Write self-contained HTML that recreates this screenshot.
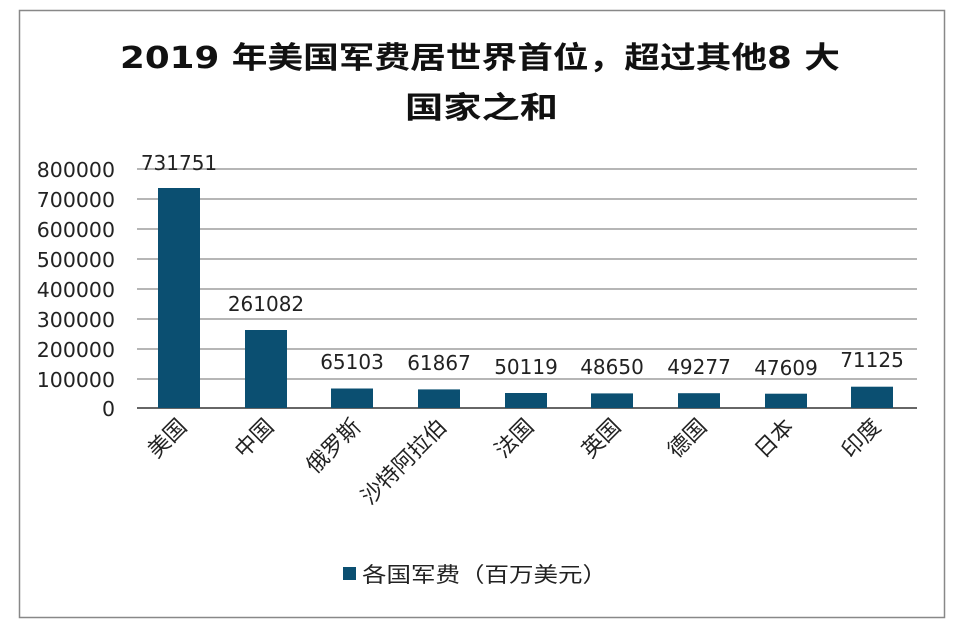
<!DOCTYPE html>
<html><head><meta charset="utf-8"><style>
body{margin:0;background:#fff;}
svg text{font-family:"DejaVu Sans","Noto Sans CJK SC",sans-serif;}
</style></head><body>
<svg width="970" height="630" xmlns="http://www.w3.org/2000/svg">
<rect x="19.5" y="10.5" width="925" height="607" fill="#fff" stroke="#888" stroke-width="1.5"/>
<text x="120" y="68" textLength="720" lengthAdjust="spacingAndGlyphs" font-size="30" font-weight="bold" fill="#111">2019 年美国军费居世界首位，超过其他8 大</text>
<text x="405" y="118" textLength="153" lengthAdjust="spacingAndGlyphs" font-size="30" font-weight="bold" fill="#111">国家之和</text>
<g stroke="#8a8a8a" stroke-width="1.2">
<line x1="137" x2="917" y1="169" y2="169"/><line x1="137" x2="917" y1="199" y2="199"/>
<line x1="137" x2="917" y1="229" y2="229"/><line x1="137" x2="917" y1="259" y2="259"/>
<line x1="137" x2="917" y1="289" y2="289"/><line x1="137" x2="917" y1="319" y2="319"/>
<line x1="137" x2="917" y1="349" y2="349"/><line x1="137" x2="917" y1="379" y2="379"/>
</g>
<line x1="137" x2="917" y1="408" y2="408" stroke="#333" stroke-width="1.5"/>
<g font-size="20.5" fill="#222" text-anchor="end">
<text x="115" y="177">800000</text><text x="115" y="207">700000</text><text x="115" y="237">600000</text>
<text x="115" y="267">500000</text><text x="115" y="297">400000</text><text x="115" y="327">300000</text>
<text x="115" y="357">200000</text><text x="115" y="387">100000</text><text x="115" y="416">0</text>
</g>
<g fill="#0b4f71">
<rect x="158" y="188" width="42" height="220"/>
<rect x="245" y="330" width="42" height="78"/>
<rect x="331" y="388.5" width="42" height="19.5"/>
<rect x="418" y="389.4" width="42" height="18.6"/>
<rect x="505" y="393" width="42" height="15"/>
<rect x="591" y="393.4" width="42" height="14.6"/>
<rect x="678" y="393.2" width="42" height="14.8"/>
<rect x="765" y="393.7" width="42" height="14.3"/>
<rect x="851" y="386.7" width="42" height="21.3"/>
</g>
<g font-size="20" fill="#222" text-anchor="middle">
<text x="179" y="170">731751</text><text x="266" y="311">261082</text>
<text x="352" y="369">65103</text><text x="439" y="370">61867</text>
<text x="526" y="374">50119</text><text x="612" y="374">48650</text>
<text x="699" y="374">49277</text><text x="786" y="375">47609</text>
<text x="872" y="367">71125</text>
</g>
<g font-size="22" fill="#222" text-anchor="end">
<text transform="translate(188,428) rotate(-45)">美国</text>
<text transform="translate(275,428) rotate(-45)">中国</text>
<text transform="translate(362,428) rotate(-45)">俄罗斯</text>
<text transform="translate(448,428) rotate(-45)">沙特阿拉伯</text>
<text transform="translate(535,428) rotate(-45)">法国</text>
<text transform="translate(622,428) rotate(-45)">英国</text>
<text transform="translate(708,428) rotate(-45)">德国</text>
<text transform="translate(795,428) rotate(-45)">日本</text>
<text transform="translate(882,428) rotate(-45)">印度</text>
</g>
<rect x="343" y="567" width="13" height="13" fill="#0b4f71"/>
<text x="362" y="582" font-size="21" textLength="245" lengthAdjust="spacingAndGlyphs" fill="#222">各国军费（百万美元）</text>
</svg>
</body></html>
